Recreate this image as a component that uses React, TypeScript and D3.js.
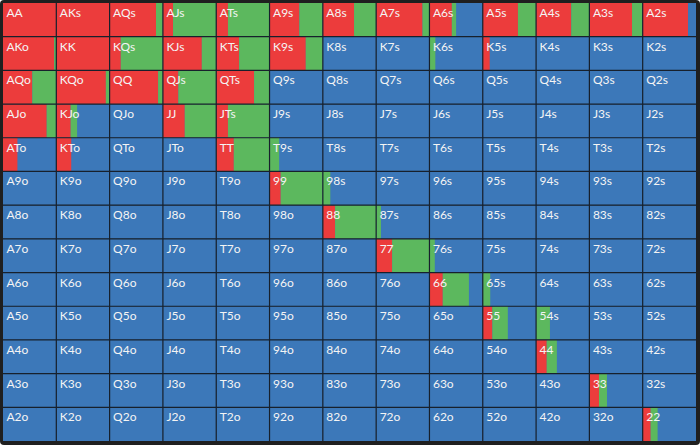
import React from "react";
import * as d3 from "d3";

const ranks = ["A", "K", "Q", "J", "T", "9", "8", "7", "6", "5", "4", "3", "2"];

// raise (red) share per cell, row = first rank, column = second rank
const raiseFreq: number[][] = [
  [1.0, 1.0, 0.87, 0.19, 0.22, 0.56, 0.585, 0.87, 0.42, 0.66, 0.66, 0.8, 0.85],
  [0.96, 1.0, 0.21, 0.73, 0.43, 0.68, 0, 0, 0, 0.13, 0, 0, 0],
  [0.55, 0.93, 0.91, 0.29, 0.71, 0, 0, 0, 0, 0, 0, 0, 0],
  [0.82, 0.27, 0, 0.41, 0.22, 0, 0, 0, 0, 0, 0, 0, 0],
  [0.27, 0.28, 0, 0, 0.33, 0, 0, 0, 0, 0, 0, 0, 0],
  [0, 0, 0, 0, 0, 0.21, 0, 0, 0, 0, 0, 0, 0],
  [0, 0, 0, 0, 0, 0, 0.23, 0, 0, 0, 0, 0, 0],
  [0, 0, 0, 0, 0, 0, 0, 0.3, 0, 0, 0, 0, 0],
  [0, 0, 0, 0, 0, 0, 0, 0, 0.25, 0, 0, 0, 0],
  [0, 0, 0, 0, 0, 0, 0, 0, 0, 0.18, 0, 0, 0],
  [0, 0, 0, 0, 0, 0, 0, 0, 0, 0, 0.2, 0, 0],
  [0, 0, 0, 0, 0, 0, 0, 0, 0, 0, 0, 0.18, 0],
  [0, 0, 0, 0, 0, 0, 0, 0, 0, 0, 0, 0, 0.15],
];

// call (green) share per cell
const callFreq: number[][] = [
  [0, 0, 0.13, 0.81, 0.78, 0.44, 0.415, 0.13, 0.08, 0.34, 0.34, 0.2, 0],
  [0.04, 0, 0.79, 0.27, 0.57, 0.32, 0, 0, 0.11, 0, 0, 0, 0],
  [0.45, 0.07, 0.09, 0.71, 0.29, 0, 0, 0, 0, 0, 0, 0, 0],
  [0.18, 0.12, 0, 0.59, 0.78, 0, 0, 0, 0, 0, 0, 0, 0],
  [0, 0, 0, 0, 0.67, 0.18, 0, 0, 0, 0, 0, 0, 0],
  [0, 0, 0, 0, 0, 0.79, 0.14, 0, 0, 0, 0, 0, 0],
  [0, 0, 0, 0, 0, 0, 0.77, 0.09, 0, 0, 0, 0, 0],
  [0, 0, 0, 0, 0, 0, 0, 0.7, 0.1, 0, 0, 0, 0],
  [0, 0, 0, 0, 0, 0, 0, 0, 0.49, 0.14, 0, 0, 0],
  [0, 0, 0, 0, 0, 0, 0, 0, 0, 0.29, 0.26, 0, 0],
  [0, 0, 0, 0, 0, 0, 0, 0, 0, 0, 0.19, 0, 0],
  [0, 0, 0, 0, 0, 0, 0, 0, 0, 0, 0, 0.15, 0],
  [0, 0, 0, 0, 0, 0, 0, 0, 0, 0, 0, 0, 0.13],
];

const W = 700;
const H = 445;
const RED = "#ec3c3c";
const GREEN = "#5cb85e";
const BLUE = "#3c78b9";

function label(r: number, c: number) {
  if (r === c) return ranks[r] + ranks[c];
  if (c > r) return ranks[r] + ranks[c] + "s";
  return ranks[c] + ranks[r] + "o";
}

export default function App() {
  const x = d3.scaleBand<number>().domain(d3.range(13)).range([3, 696]).padding(0);
  const y = d3.scaleBand<number>().domain(d3.range(13)).range([3, 441]).padding(0);
  const bw = x.bandwidth();
  const bh = y.bandwidth();
  const frac = d3.scaleLinear().domain([0, 1]).range([0, bw]);

  const cells: React.ReactNode[] = [];
  for (let r = 0; r < 13; r++) {
    for (let c = 0; c < 13; c++) {
      const x0 = x(c)!;
      const y0 = y(r)!;
      const rw = frac(raiseFreq[r][c]);
      const cw = frac(callFreq[r][c]);
      cells.push(
        <g key={`${r}-${c}`}>
          <rect x={x0} y={y0} width={bw} height={bh} fill={BLUE} />
          {rw > 0 && <rect x={x0} y={y0} width={rw} height={bh} fill={RED} />}
          {cw > 0 && <rect x={x0 + rw} y={y0} width={cw} height={bh} fill={GREEN} />}
        </g>
      );
    }
  }

  const lines: React.ReactNode[] = [];
  for (let i = 1; i < 13; i++) {
    lines.push(
      <line key={`v${i}`} x1={x(i)!} x2={x(i)!} y1={3} y2={441} stroke="#17202c" strokeWidth={1.2} />
    );
    lines.push(
      <line key={`h${i}`} x1={3} x2={696} y1={y(i)!} y2={y(i)!} stroke="#17202c" strokeWidth={1.2} />
    );
  }

  const labels: React.ReactNode[] = [];
  for (let r = 0; r < 13; r++) {
    for (let c = 0; c < 13; c++) {
      labels.push(
        <text
          key={`t${r}-${c}`}
          x={x(c)! + 3.5}
          y={y(r)! + 14}
          fill="#f4f4f4"
          fontSize={12}
          fontFamily="Lato, 'Open Sans', sans-serif"
        >
          {label(r, c)}
        </text>
      );
    }
  }

  return (
    <div style={{ position: "fixed", left: 0, top: 0 }}>
      <svg width={W} height={H} style={{ display: "block" }}>
        <rect x={0} y={0} width={W} height={H} fill="#ffffff" />
        <rect x={0} y={0} width={W} height={H} rx={4} fill="#1f1f1f" />
        {cells}
        {lines}
        {labels}
      </svg>
    </div>
  );
}
